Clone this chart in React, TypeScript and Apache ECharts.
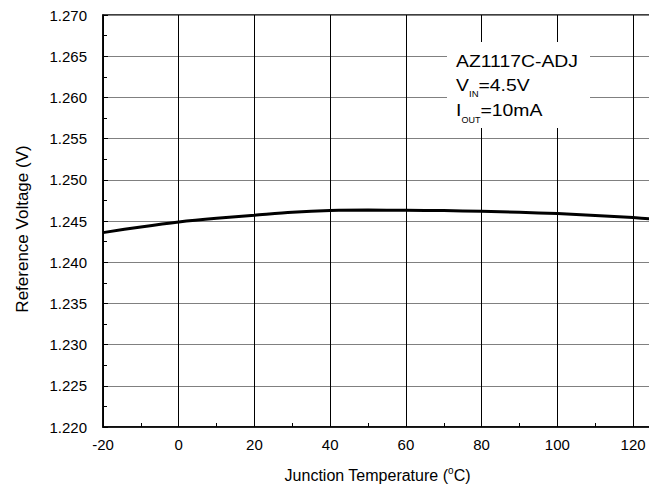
import React, { useEffect, useRef } from "react";
import * as echarts from "echarts";

const temperatures = [-20, -10, 0, 10, 20, 30, 40, 50, 60, 70, 80, 90, 100, 110, 120, 125];
const refVoltage = [1.24359, 1.24428, 1.24488, 1.24533, 1.24569, 1.24605, 1.24626, 1.24632, 1.2463, 1.24626, 1.24618, 1.24606, 1.2459, 1.24568, 1.24541, 1.24526];

const annoTitle = "AZ1117C-ADJ";
const annoVin = ["V", "IN", "=4.5V"];
const annoIout = ["I", "OUT", "=10mA"];

const FONT = "'Liberation Sans', Arial, Helvetica, sans-serif";

export default function App() {
  const ref = useRef<HTMLDivElement>(null);
  useEffect(() => {
    if (!ref.current) return;
    const chart = echarts.init(ref.current, undefined, { renderer: "svg" });
    const data = temperatures.map((t, i) => [t, refVoltage[i]]);
    const mainText = (text: string, x: number, y: number) => ({
      type: "text",
      x,
      y,
      scaleX: 1.14,
      style: { text, fontSize: 17, fontFamily: FONT, fill: "#000", verticalAlign: "middle" },
      z: 11,
    });
    const subText = (text: string, x: number, y: number, size: number) => ({
      type: "text",
      x,
      y,
      style: { text, fontSize: size, fontFamily: FONT, fill: "#000", verticalAlign: "middle" },
      z: 11,
    });
    chart.setOption({
      animation: false,
      backgroundColor: "#fff",
      textStyle: { fontFamily: FONT, color: "#000" },
      grid: {
        left: 103,
        top: 15,
        right: -3,
        bottom: 62,
        outerBoundsMode: "none",
        containLabel: false,
        show: true,
        borderColor: "#000",
        borderWidth: 1.5,
        backgroundColor: "transparent",
      },
      xAxis: {
        type: "value",
        min: -20,
        max: 125,
        interval: 20,
        name: "{a|Junction Temperature (}{sup|o}{a|C)}",
        nameLocation: "middle",
        nameGap: 38,
        nameTextStyle: {
          rich: {
            a: { fontSize: 16, fontFamily: FONT, color: "#000", lineHeight: 20 },
            sup: { fontSize: 10, fontFamily: FONT, color: "#000", verticalAlign: "top", lineHeight: 20 },
          },
        },
        axisLine: { show: true, onZero: false, lineStyle: { color: "#000", width: 1.5 } },
        axisTick: { show: true, inside: true, length: 5, lineStyle: { color: "#000" } },
        minorTick: { show: true, splitNumber: 2, length: 4, lineStyle: { color: "#000" } },
        axisLabel: {
          fontSize: 15,
          fontFamily: FONT,
          color: "#000",
          margin: 10,
          formatter: (v: number) => (v % 20 === 0 ? String(v) : ""),
        },
        splitLine: { show: true, lineStyle: { color: "#000", width: 1 } },
      },
      yAxis: {
        type: "value",
        min: 1.22,
        max: 1.27,
        interval: 0.005,
        name: "Reference Voltage (V)",
        nameLocation: "middle",
        nameGap: 72,
        nameTextStyle: { fontSize: 17, fontFamily: FONT, color: "#000", padding: [0, 16, 0, 0] },
        axisLine: { show: true, onZero: false, lineStyle: { color: "#000", width: 1.5 } },
        axisTick: { show: true, inside: true, length: 5, lineStyle: { color: "#000" } },
        minorTick: { show: true, splitNumber: 2, length: 4, lineStyle: { color: "#000" } },
        axisLabel: {
          fontSize: 15,
          fontFamily: FONT,
          color: "#000",
          margin: 16,
          formatter: (v: number) => v.toFixed(3),
        },
        splitLine: { show: true, lineStyle: { color: "#808080", width: 1 } },
      },
      series: [
        {
          type: "line",
          data,
          smooth: 0.3,
          showSymbol: false,
          lineStyle: { color: "#000", width: 3 },
          z: 5,
        },
      ],
      graphic: [
        {
          type: "rect",
          shape: { x: 447, y: 42, width: 143, height: 86 },
          style: { fill: "#fff" },
          z: 10,
        },
        mainText(annoTitle, 456, 61),
        mainText(annoVin[0], 456, 85.5),
        subText(annoVin[1], 469, 93.5, 9.5),
        mainText(annoVin[2], 478.5, 85.5),
        mainText(annoIout[0], 456, 110.5),
        subText(annoIout[1], 461.5, 119.5, 9),
        mainText(annoIout[2], 480.5, 110.5),
      ],
    });
    return () => chart.dispose();
  }, []);
  return (
    <div
      ref={ref}
      style={{ position: "absolute", left: 0, top: 0, width: 649, height: 489 }}
    />
  );
}
